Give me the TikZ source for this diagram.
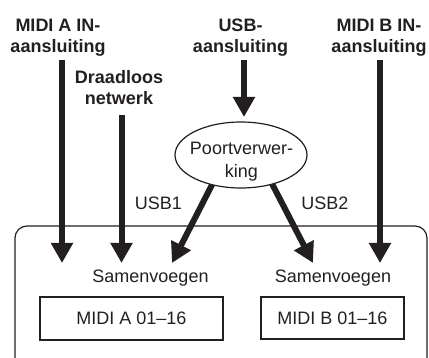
\documentclass[tikz,border=0pt]{standalone}
\usepackage{fontspec}
\setmainfont{Liberation Sans}
\usetikzlibrary{arrows.meta,shapes.geometric}
\definecolor{ink}{HTML}{231F20}
\begin{document}
\begin{tikzpicture}[x=1pt,y=-1pt,
  title/.style={font=\bfseries\fontsize{18}{21}\selectfont, align=center, inner sep=0pt, anchor=north, text=ink},
  lbl/.style={font=\fontsize{18}{22}\selectfont, inner sep=0pt, text=ink},
  bigarrow/.style={line width=6pt, draw=ink, -{Triangle[length=20pt,width=21pt]}},
  portbox/.style={draw=ink, line width=1.2pt, inner sep=0pt, font=\fontsize{18}{22}\selectfont, text=ink},
  frame/.style={draw=ink, line width=1.2pt, rounded corners=12pt, inner sep=0pt}
]
\useasboundingbox (0,0) rectangle (429,358);

% container
\node[frame, minimum width=412pt, minimum height=144pt] (fr) at (221,298) {};

% titles
\node[title] (ta) at (58,18.5) {MIDI A IN-\\aansluiting};
\node[title] (td) at (119,70) {Draadloos\\netwerk};
\node[title] (tu) at (240.5,18.5) {USB-\\aansluiting};
\node[title] (tb) at (379,18.5) {MIDI B IN-\\aansluiting};

% merge labels and boxes
\node[lbl, anchor=base] (sa) at (150.5,283) {Samenvoegen};
\node[lbl, anchor=base] (sb) at (333,283) {Samenvoegen};
\node[portbox, minimum width=183pt, minimum height=43pt] (ma) at (131.5,318.5) {MIDI A 01--16};
\node[portbox, minimum width=143pt, minimum height=42pt] (mb) at (332.5,318) {MIDI B 01--16};

% usb labels
\node[lbl, anchor=base] (l1) at (158.5,210) {USB1};
\node[lbl, anchor=base] (l2) at (325,210) {USB2};

% arrow end points
\coordinate (aS) at (62,60);     \coordinate (aE) at (62,263);
\coordinate (dS) at (121.5,115); \coordinate (dE) at (121.5,263);
\coordinate (uS) at (244,60);    \coordinate (uE) at (244,117);
\coordinate (bS) at (380,60);    \coordinate (bE) at (380,263);
\coordinate (u1S) at (216.5,176); \coordinate (u1E) at (172,263);
\coordinate (u2S) at (267.5,175); \coordinate (u2E) at (313,263);

\draw[bigarrow] (aS) -- (aE);
\draw[bigarrow] (dS) -- (dE);
\draw[bigarrow] (uS) -- (uE);
\draw[bigarrow] (bS) -- (bE);
\draw[bigarrow] (u1S) -- (u1E);
\draw[bigarrow] (u2S) -- (u2E);

% port processing ellipse
\node[ellipse, draw=ink, fill=white, line width=1.2pt, minimum width=132pt, minimum height=66pt, inner sep=0pt] (pv) at (241,155) {};
\node[lbl, align=center, anchor=north, font=\fontsize{18}{22.5}\selectfont] (pvt) at (241.5,142) {Poortverwer-\\king};
\end{tikzpicture}
\end{document}
